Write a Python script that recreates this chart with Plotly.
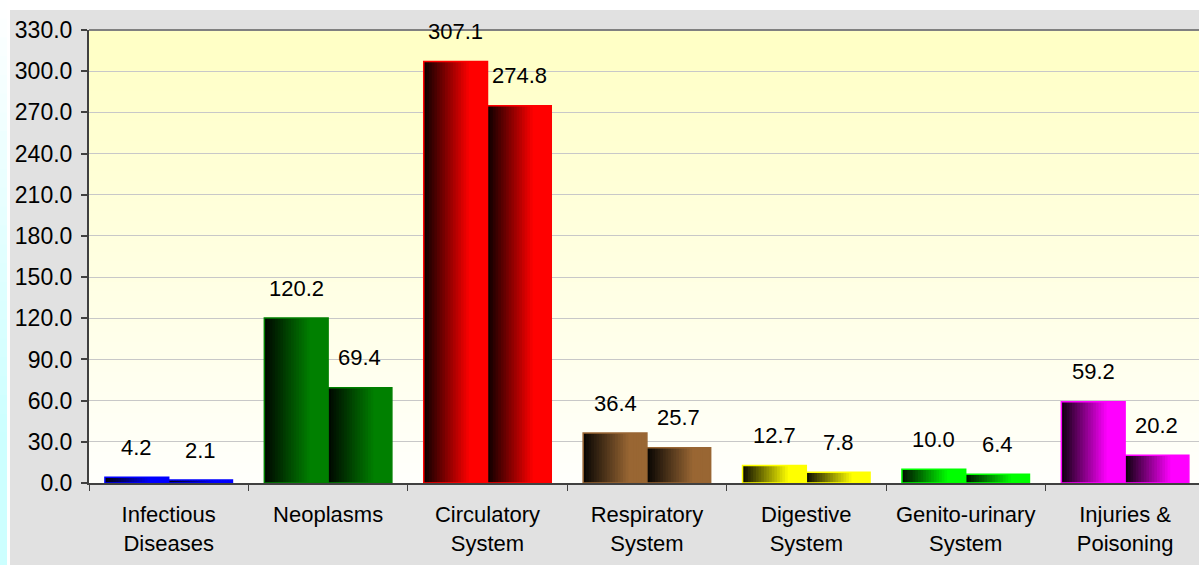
import plotly.graph_objects as go

# ---------------- data ----------------
categories = ["Infectious<br>Diseases", "Neoplasms", "Circulatory<br>System",
              "Respiratory<br>System", "Digestive<br>System",
              "Genito-urinary<br>System", "Injuries &<br>Poisoning"]
series_1 = [4.2, 120.2, 307.1, 36.4, 12.7, 10.0, 59.2]
series_2 = [2.1, 69.4, 274.8, 25.7, 7.8, 6.4, 20.2]
y_ticks = [0, 30, 60, 90, 120, 150, 180, 210, 240, 270, 300, 330]
bar_colors = ["#0000FF", "#008000", "#FF0000", "#996633", "#FFFF00", "#00FF00", "#FF00FF"]

# ---------------- style ----------------
FONT = "Liberation Sans, Arial, sans-serif"
FS = 22
BAR_W = 0.4
N_SLICES = 24
RAMP_END = 0.75

W, H = 1199, 565
ML, MR, MT, MB = 89, 0, 30, 82
PW, PH = W - ML - MR, H - MT - MB
CAT_PX = 159.4


def hex2rgb(h):
    h = h.lstrip("#")
    return tuple(int(h[i:i + 2], 16) for i in (0, 2, 4))


def shade(hexcol, f):
    r, g, b = hex2rgb(hexcol)
    return "rgb(%d,%d,%d)" % (round(r * f), round(g * f), round(b * f))


def px2x(px):
    return (px - ML) / PW


def px2y(py):
    return (H - MB - py) / PH


fig = go.Figure()

series = [("Series 1", series_1, -BAR_W), ("Series 2", series_2, 0.0)]
for name, vals, start in series:
    step = BAR_W / N_SLICES
    for k in range(N_SLICES):
        t = (k + 0.5) / N_SLICES
        f = min(1.0, 0.04 + t / RAMP_END)
        off = start + k * step
        wdt = min(step * 1.7, start + BAR_W - off)
        fig.add_trace(go.Bar(
            x=categories, y=vals, name=name, offset=off, width=wdt,
            marker=dict(color=[shade(c, f) for c in bar_colors], line=dict(width=0)),
            showlegend=False, hoverinfo="skip"))
    fig.add_trace(go.Bar(
        x=categories, y=vals, name=name, offset=start, width=BAR_W,
        marker=dict(color="rgba(0,0,0,0)", line=dict(color=bar_colors, width=1.5)),
        showlegend=False))

annotations = []
for name, vals, start in series:
    for i, v in enumerate(vals):
        annotations.append(dict(
            x=i + start + BAR_W / 2, y=v, xref="x", yref="y",
            text="%.1f" % v, showarrow=False, yanchor="middle", yshift=30,
            font=dict(family=FONT, size=FS, color="black")))

shapes = []
# gray chart background
shapes.append(dict(type="rect", xref="paper", yref="paper",
                   x0=px2x(10), x1=px2x(W + 5), y0=px2y(H + 5), y1=px2y(10),
                   fillcolor="#E1E1E1", line=dict(width=0), layer="below"))
# left cyan band (vertical gradient white -> cyan)
nb = 30
for j in range(nb):
    t = (j + 0.5) / nb
    c = (round(255 - (255 - 204) * min(1.0, t * 1.3)), 255, 255)
    shapes.append(dict(type="rect", xref="paper", yref="paper",
                       x0=px2x(0), x1=px2x(7),
                       y0=px2y(H * (j + 1) / nb + 0.5), y1=px2y(H * j / nb - 0.5),
                       fillcolor="rgb(%d,%d,%d)" % c, line=dict(width=0), layer="below"))
# plot area gradient (light yellow top -> near white bottom)
ng = 45
top_c = (255, 255, 196)
bot_c = (255, 255, 252)
for j in range(ng):
    t = (j + 0.5) / ng
    c = tuple(round(top_c[m] + (bot_c[m] - top_c[m]) * t) for m in range(3))
    shapes.append(dict(type="rect", xref="paper", yref="paper",
                       x0=0, x1=1.01, y0=1 - (j + 1) / ng - 0.002, y1=1 - j / ng,
                       fillcolor="rgb(%d,%d,%d)" % c, line=dict(width=0), layer="below"))
# top border of plot area
shapes.append(dict(type="line", xref="paper", yref="paper", x0=0, x1=1.01, y0=1, y1=1,
                   line=dict(color="#808080", width=2), layer="above"))

x_max = -0.5 + PW / CAT_PX

fig.update_layout(
    width=W, height=H,
    margin=dict(l=ML, r=MR, t=MT, b=MB, pad=0),
    paper_bgcolor="white", plot_bgcolor="rgba(0,0,0,0)",
    barmode="overlay", showlegend=False,
    font=dict(family=FONT, size=FS, color="black"),
    xaxis=dict(type="category", range=[-0.5, x_max], tickson="boundaries",
               ticks="outside", ticklen=6, tickwidth=1, tickcolor="#404040",
               showline=True, linecolor="#404040", linewidth=2,
               showgrid=False, zeroline=False, ticklabelstandoff=11,
               tickfont=dict(family=FONT, size=FS, color="black")),
    yaxis=dict(range=[0, 330], tickvals=y_ticks, tickformat=".1f",
               ticks="outside", ticklen=6, tickwidth=2, tickcolor="#404040",
               showline=True, linecolor="#404040", linewidth=2,
               showgrid=True, gridcolor="#C8C8C8", gridwidth=1,
               zeroline=False, ticklabelstandoff=4,
               tickfont=dict(family=FONT, size=23, color="black")),
    annotations=annotations, shapes=shapes,
)

fig.write_html("out.html",
               config={"displayModeBar": False},
               post_script="document.body.style.margin='0';document.body.style.overflow='hidden';")
